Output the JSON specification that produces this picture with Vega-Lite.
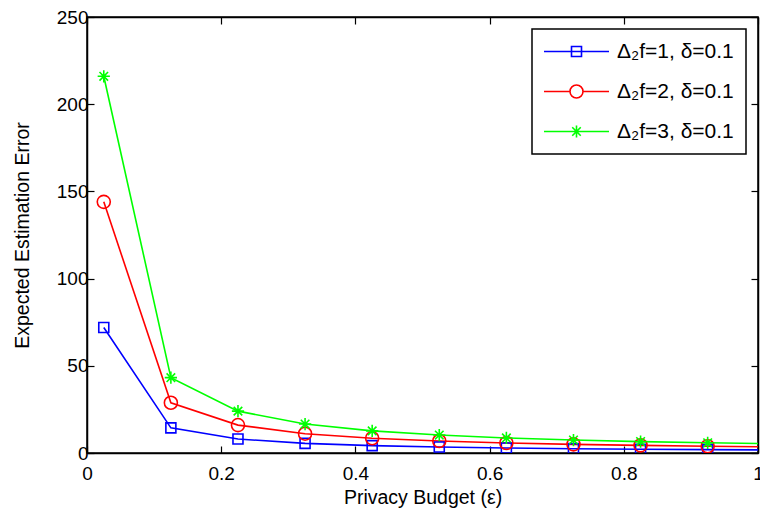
{
  "$schema": "https://vega.github.io/schema/vega-lite/v6.json",
  "width": 671,
  "height": 436,
  "autosize": "none",
  "padding": {"left": 87, "top": 17, "right": 2, "bottom": 60},
  "background": "white",
  "config": {
    "font": "Liberation Sans",
    "view": {"stroke": "black", "strokeWidth": 1.5},
    "axis": {
      "grid": false,
      "domainColor": "black",
      "domainWidth": 1.5,
      "tickColor": "black",
      "tickWidth": 1.2,
      "tickSize": -7,
      "labelFont": "Liberation Sans",
      "labelFontSize": 19,
      "labelColor": "black",
      "titleFont": "Liberation Sans",
      "titleFontSize": 19.5,
      "titleFontWeight": "normal",
      "titleColor": "black"
    },
    "legend": {
      "title": null,
      "orient": "top-right",
      "offset": 12,
      "padding": 12,
      "strokeColor": "black",
      "strokeWidth": 1.5,
      "fillColor": "white",
      "labelFont": "Liberation Sans",
      "labelFontSize": 21,
      "labelColor": "black",
      "symbolSize": 25,
      "symbolStrokeWidth": 1.6,
      "labelOffset": 30,
      "rowPadding": 18,
      "symbolOffset": 22
    }
  },
  "data": {
    "values": [
      {"eps": 0.025, "err": 72, "series": "Δ₂f=1, δ=0.1"},
      {"eps": 0.125, "err": 14.4, "series": "Δ₂f=1, δ=0.1"},
      {"eps": 0.225, "err": 8.0, "series": "Δ₂f=1, δ=0.1"},
      {"eps": 0.325, "err": 5.54, "series": "Δ₂f=1, δ=0.1"},
      {"eps": 0.425, "err": 4.24, "series": "Δ₂f=1, δ=0.1"},
      {"eps": 0.525, "err": 3.43, "series": "Δ₂f=1, δ=0.1"},
      {"eps": 0.625, "err": 2.88, "series": "Δ₂f=1, δ=0.1"},
      {"eps": 0.725, "err": 2.48, "series": "Δ₂f=1, δ=0.1"},
      {"eps": 0.825, "err": 2.18, "series": "Δ₂f=1, δ=0.1"},
      {"eps": 0.925, "err": 1.95, "series": "Δ₂f=1, δ=0.1"},
      {"eps": 1.025, "err": 1.76, "series": "Δ₂f=1, δ=0.1"},
      {"eps": 0.025, "err": 144, "series": "Δ₂f=2, δ=0.1"},
      {"eps": 0.125, "err": 28.8, "series": "Δ₂f=2, δ=0.1"},
      {"eps": 0.225, "err": 16.0, "series": "Δ₂f=2, δ=0.1"},
      {"eps": 0.325, "err": 11.08, "series": "Δ₂f=2, δ=0.1"},
      {"eps": 0.425, "err": 8.47, "series": "Δ₂f=2, δ=0.1"},
      {"eps": 0.525, "err": 6.86, "series": "Δ₂f=2, δ=0.1"},
      {"eps": 0.625, "err": 5.76, "series": "Δ₂f=2, δ=0.1"},
      {"eps": 0.725, "err": 4.97, "series": "Δ₂f=2, δ=0.1"},
      {"eps": 0.825, "err": 4.36, "series": "Δ₂f=2, δ=0.1"},
      {"eps": 0.925, "err": 3.89, "series": "Δ₂f=2, δ=0.1"},
      {"eps": 1.025, "err": 3.51, "series": "Δ₂f=2, δ=0.1"},
      {"eps": 0.025, "err": 216, "series": "Δ₂f=3, δ=0.1"},
      {"eps": 0.125, "err": 43.2, "series": "Δ₂f=3, δ=0.1"},
      {"eps": 0.225, "err": 24.0, "series": "Δ₂f=3, δ=0.1"},
      {"eps": 0.325, "err": 16.6, "series": "Δ₂f=3, δ=0.1"},
      {"eps": 0.425, "err": 12.7, "series": "Δ₂f=3, δ=0.1"},
      {"eps": 0.525, "err": 10.3, "series": "Δ₂f=3, δ=0.1"},
      {"eps": 0.625, "err": 8.64, "series": "Δ₂f=3, δ=0.1"},
      {"eps": 0.725, "err": 7.45, "series": "Δ₂f=3, δ=0.1"},
      {"eps": 0.825, "err": 6.55, "series": "Δ₂f=3, δ=0.1"},
      {"eps": 0.925, "err": 5.84, "series": "Δ₂f=3, δ=0.1"},
      {"eps": 1.025, "err": 5.27, "series": "Δ₂f=3, δ=0.1"}
    ]
  },
  "encoding": {
    "color": {
      "field": "series", "type": "nominal",
      "scale": {"domain": ["Δ₂f=1, δ=0.1", "Δ₂f=2, δ=0.1", "Δ₂f=3, δ=0.1"], "range": ["#0000ff", "#ff0000", "#00ff00"]},
      "legend": {
        "symbolType": "M-13,0H13",
        "encode": {
          "symbols": {
            "update": {
              "shape": {"signal": "datum.index == 0 ? 'M-13,0H13M-2,-2H2V2H-2Z' : datum.index == 1 ? 'M-13,0H-2.6M2.6,0H13M2.6,0A2.6,2.6,0,1,1,-2.6,0A2.6,2.6,0,1,1,2.6,0Z' : 'M-13,0H13M0,-2.4V2.4M-1.7,-1.7L1.7,1.7M-1.7,1.7L1.7,-1.7'"},
              "fill": {"value": "transparent"}
            }
          }
        }
      }
    }
  },
  "layer": [
    {
      "mark": {"type": "line", "clip": true, "strokeWidth": 1.6},
      "encoding": {
        "x": {
          "field": "eps", "type": "quantitative",
          "scale": {"domain": [0, 1], "nice": false},
          "axis": {"orient": "bottom", "values": [0, 0.2, 0.4, 0.6, 0.8, 1], "format": "~g", "title": "Privacy Budget (ε)", "labelPadding": 18, "titlePadding": 5, "labelFlush": false}
        },
        "y": {
          "field": "err", "type": "quantitative",
          "scale": {"domain": [0, 250], "nice": false},
          "axis": {"orient": "left", "values": [0, 50, 100, 150, 200, 250], "title": "Expected Estimation Error", "labelPadding": 6, "titlePadding": 24}
        }
      }
    },
    {
      "transform": [{"filter": "datum.series == 'Δ₂f=1, δ=0.1'"}],
      "mark": {"type": "point", "shape": "square", "size": 100, "clip": true, "filled": false, "strokeWidth": 1.6, "opacity": 1},
      "encoding": {
        "x": {
          "field": "eps", "type": "quantitative",
          "axis": {"orient": "top", "values": [0, 0.2, 0.4, 0.6, 0.8, 1], "labels": false, "title": null}
        },
        "y": {
          "field": "err", "type": "quantitative",
          "axis": {"orient": "right", "values": [0, 50, 100, 150, 200, 250], "labels": false, "title": null}
        }
      }
    },
    {
      "transform": [{"filter": "datum.series == 'Δ₂f=2, δ=0.1'"}],
      "mark": {"type": "point", "shape": "circle", "size": 170, "clip": true, "filled": false, "strokeWidth": 1.6, "opacity": 1},
      "encoding": {
        "x": {"field": "eps", "type": "quantitative", "axis": null},
        "y": {"field": "err", "type": "quantitative", "axis": null}
      }
    },
    {
      "transform": [{"filter": "datum.series == 'Δ₂f=3, δ=0.1'"}],
      "mark": {"type": "point", "shape": "M0,-1V1M-1,0H1M-0.7,-0.7L0.7,0.7M-0.7,0.7L0.7,-0.7", "size": 150, "clip": true, "filled": false, "strokeWidth": 1.6, "opacity": 1},
      "encoding": {
        "x": {"field": "eps", "type": "quantitative", "axis": null},
        "y": {"field": "err", "type": "quantitative", "axis": null}
      }
    }
  ],
  "resolve": {"axis": {"x": "independent", "y": "independent"}}
}
